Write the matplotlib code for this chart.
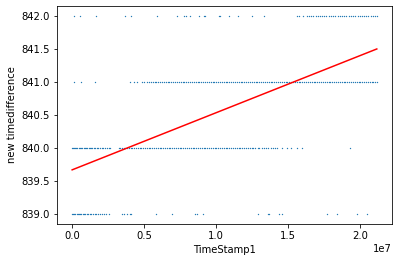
import numpy as np
import matplotlib
matplotlib.use("Agg")
import matplotlib.pyplot as plt

# timestamps are read in units of 1e5, converted below
ts_839 = [0, 0.8, 1.5, 2.3, 3.1, 3.9, 4.6, 5.5, 6.4, 7.2, 8.1, 9.0, 10.2, 11.1, 12.3,
          13.4, 14.2, 15.6, 16.8, 18.0, 19.5, 20.6, 22.1, 23.4, 25.5,
          34.7, 36.3, 38.2, 40, 41, 58.3, 69.4, 85.6, 86.8, 91,
          129.4, 136.3, 137, 143.7, 146, 177, 184, 198, 205]
ts_840 = [0, 0.7, 1.4, 2.2, 3.0, 3.7, 4.5, 5.3, 6.2, 7.0, 7.9, 8.8, 9.6, 10.5, 11.4,
          12.3, 13.2, 14.0, 15.1, 16.0, 17.2, 18.3, 19.4, 20.5, 21.7, 22.9, 24.1, 25.3, 26.6,
          32.4, 33.5, 34.6, 35.9, 37.0, 38.2, 39.5, 40.6, 41.8, 43.1, 44.3, 45.6, 46.8,
          48.1, 49.3, 50.6, 51.8, 53.1, 54.4, 55.6, 56.9, 58.1, 59.4, 60.7, 61.9, 63.2,
          64.5, 65.7, 67.0, 68.3, 69.6, 70.8, 72.1, 73.4, 74.6, 75.9, 77.2, 78.5, 79.7,
          81.0, 82.3, 83.6, 84.9, 86.1, 87.4, 88.7, 90.0, 91.3, 92.5, 93.8, 95.1, 96.4,
          97.7, 98.9, 100.2, 101.5, 102.8, 104.1, 105.4, 106.6, 107.9, 109.2, 110.5,
          111.8, 113.1, 114.3, 115.6, 116.9, 118.2, 119.5, 120.8, 122.1, 123.4, 124.6,
          125.9, 127.3, 128.8, 130.1, 131.6, 133.2, 134.5, 136.1, 137.8, 139.4, 140.6, 142,
          146, 149.5, 152, 156.5, 159.5, 193]
ts_841 = [1.6, 6.3, 16.2, 40.5, 43, 45, 48.6, 50,
          52.0, 53.3, 54.6, 55.9, 57.2, 58.5, 59.8, 61.1, 62.4, 63.7, 65.0, 66.3, 67.6,
          68.9, 70.2, 71.5, 72.8, 74.1, 75.4, 76.7, 78.0, 79.3, 80.6, 81.9, 83.2, 84.5,
          85.8, 87.1, 88.4, 89.7, 91.0, 92.3, 93.6, 94.9, 96.2, 97.5, 98.8, 100.1, 101.4,
          102.7, 104.0, 105.3, 106.6, 107.9, 109.2, 110.5, 111.8, 113.1, 114.4, 115.7,
          117.0, 118.3, 119.6, 120.9, 122.2, 123.5, 124.8, 126.1, 127.4, 128.7, 130.0,
          131.3, 132.6, 133.9, 135.2, 136.5, 137.8, 139.1, 140.4, 141.7, 143.0, 144.3,
          145.6, 146.9, 148.2, 149.5, 150.8, 152.1, 153.4, 154.7, 156.0, 157.3, 158.6,
          159.9, 161.2, 162.5, 163.8, 165.1, 166.4, 167.7, 169.0, 170.3, 171.6, 172.9,
          174.2, 175.5, 176.8, 178.1, 179.4, 180.7, 182.0, 183.3, 184.6, 185.9, 187.2,
          188.5, 189.8, 191.1, 192.4, 193.7, 195.0, 196.3, 197.6, 198.9, 200.2, 201.5,
          202.8, 204.1, 205.4, 206.7, 208.0, 209.3, 210.6, 211.6]
ts_842 = [1.6, 5.3, 16.9, 37, 41, 59, 73, 78, 79, 82, 88, 91.5, 92, 102, 103,
          109, 115.5, 125, 133.5, 156, 157.6, 160,
          163.0, 164.6, 166.1, 167.5, 169.2, 170.6, 172.1, 173.7, 175.2, 176.6, 178.3,
          179.8, 181.2, 182.9, 184.4, 185.8, 187.4, 189.0, 190.5, 192.0, 193.6, 195.1,
          196.6, 198.2, 199.7, 201.2, 202.8, 204.3, 205.8, 207.4, 208.9, 210.3, 211.6]

# fitted trend line end points
fit_ts = [0, 211.6]
fit_diff = [839.67, 841.5]

x = np.concatenate([ts_839, ts_840, ts_841, ts_842]) * 1e5
y = np.concatenate([np.full(len(ts_839), 839.0), np.full(len(ts_840), 840.0),
                    np.full(len(ts_841), 841.0), np.full(len(ts_842), 842.0)])

fig = plt.figure(figsize=(398 / 72, 262 / 72), dpi=72)
ax = fig.add_axes([0.143, 0.145, 0.842, 0.832])
ax.scatter(x, y, s=0.3, linewidths=0.8)
ax.plot(np.array(fit_ts) * 1e5, fit_diff, color='red')
ax.set_xlabel('TimeStamp1')
ax.set_ylabel('new timedifference')
fig.savefig('out.png', dpi=72)
